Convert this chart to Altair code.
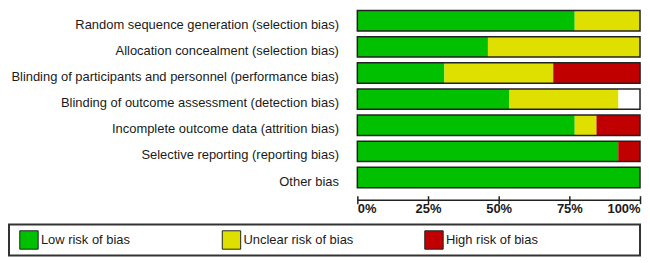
import altair as alt
import pandas as pd

# ---- data (percent of studies) ----
domains = [
    "Random sequence generation (selection bias)",
    "Allocation concealment (selection bias)",
    "Blinding of participants and personnel (performance bias)",
    "Blinding of outcome assessment (detection bias)",
    "Incomplete outcome data (attrition bias)",
    "Selective reporting (reporting bias)",
    "Other bias",
]
low = [76.9, 46.2, 30.8, 53.8, 76.9, 92.3, 100.0]
unclear = [23.1, 53.8, 38.5, 38.5, 7.7, 0.0, 0.0]
high = [0.0, 0.0, 30.8, 0.0, 15.4, 7.7, 0.0]
categories = ["Low risk of bias", "Unclear risk of bias", "High risk of bias"]
colors = ["#00c000", "#e0e000", "#c00000"]
tick_values = [0, 25, 50, 75, 100]

FONT = "Liberation Sans"
TXT = "#1a1a1a"
EDGE = "#222222"
PANEL_W = 634
BAR_START = 350  # where 0% sits inside the panel

rows = []
for d, l, u, h in zip(domains, low, unclear, high):
    start = 0.0
    for cat, v in zip(categories, (l, u, h)):
        if v > 0:
            rows.append({"domain": d, "risk": cat, "start": start, "end": start + v})
        start += v
seg = pd.DataFrame(rows)
frame = pd.DataFrame({"domain": domains, "start": [0.0] * len(domains), "end": [100.0] * len(domains)})
leg = pd.DataFrame({"risk": categories})

color = alt.Color("risk:N", scale=alt.Scale(domain=categories, range=colors), legend=None)
x_scale = alt.Scale(domain=[0, 100], nice=False, range=[BAR_START, PANEL_W])

y_enc = alt.Y(
    "domain:N",
    sort=domains,
    scale=alt.Scale(paddingInner=0.22, paddingOuter=0),
    axis=alt.Axis(
        title=None, domain=False, ticks=False, grid=False,
        offset=-BAR_START,
        labelFont=FONT, labelFontSize=13, labelColor=TXT,
        labelPadding=19, labelLimit=600, labelOffset=4,
    ),
)

bars = alt.Chart(seg).mark_bar(strokeWidth=0).encode(
    x=alt.X(
        "start:Q",
        scale=x_scale,
        axis=alt.Axis(
            orient="bottom", values=tick_values, offset=8, tickSize=8,
            ticks=True, domain=False, labels=False, grid=False, title=None,
            tickColor=EDGE, tickWidth=1.5,
        ),
    ),
    x2="end:Q",
    y=y_enc,
    color=color,
)

outline = alt.Chart(frame).mark_bar(
    filled=False, stroke=EDGE, strokeWidth=1.5
).encode(
    x=alt.X(
        "start:Q",
        scale=x_scale,
        axis=alt.Axis(
            orient="bottom", values=tick_values, offset=12, ticks=False,
            domain=True, domainColor=EDGE, domainWidth=1.5,
            labelExpr="datum.value + '%'", labelFlush=True,
            labelFont=FONT, labelFontWeight="bold", labelFontSize=13,
            labelColor=TXT, labelPadding=3, grid=False, title=None,
        ),
    ),
    x2="end:Q",
    y=y_enc,
)

main = (
    alt.layer(bars, outline)
    .resolve_axis(x="independent")
    .properties(width=PANEL_W, height=178, view=alt.ViewBackground(stroke="transparent"))
)

# band start = swatch centre
leg_x = alt.X(
    "risk:N",
    sort=categories,
    bandPosition=0,
    scale=alt.Scale(type="band", paddingInner=0, paddingOuter=0.058, align=0.85),
    axis=None,
)
swatches = alt.Chart(leg).mark_square(
    size=342, opacity=1, stroke=EDGE, strokeWidth=1
).encode(x=leg_x, color=color)
labels = alt.Chart(leg).mark_text(
    align="left", baseline="middle", dx=12, fontSize=13, font=FONT, color=TXT
).encode(x=leg_x, text="risk:N")

legend_panel = alt.layer(swatches, labels).properties(
    width=PANEL_W, height=31,
    view=alt.ViewBackground(stroke="#333333", strokeWidth=2),
)

chart = (
    alt.concat(main, legend_panel, columns=1, spacing=7)
    .properties(padding={"left": 0, "top": 0, "right": 0, "bottom": 0}, background="white")
)

chart.save("out.html", embed_options={"renderer": "svg", "actions": False})
